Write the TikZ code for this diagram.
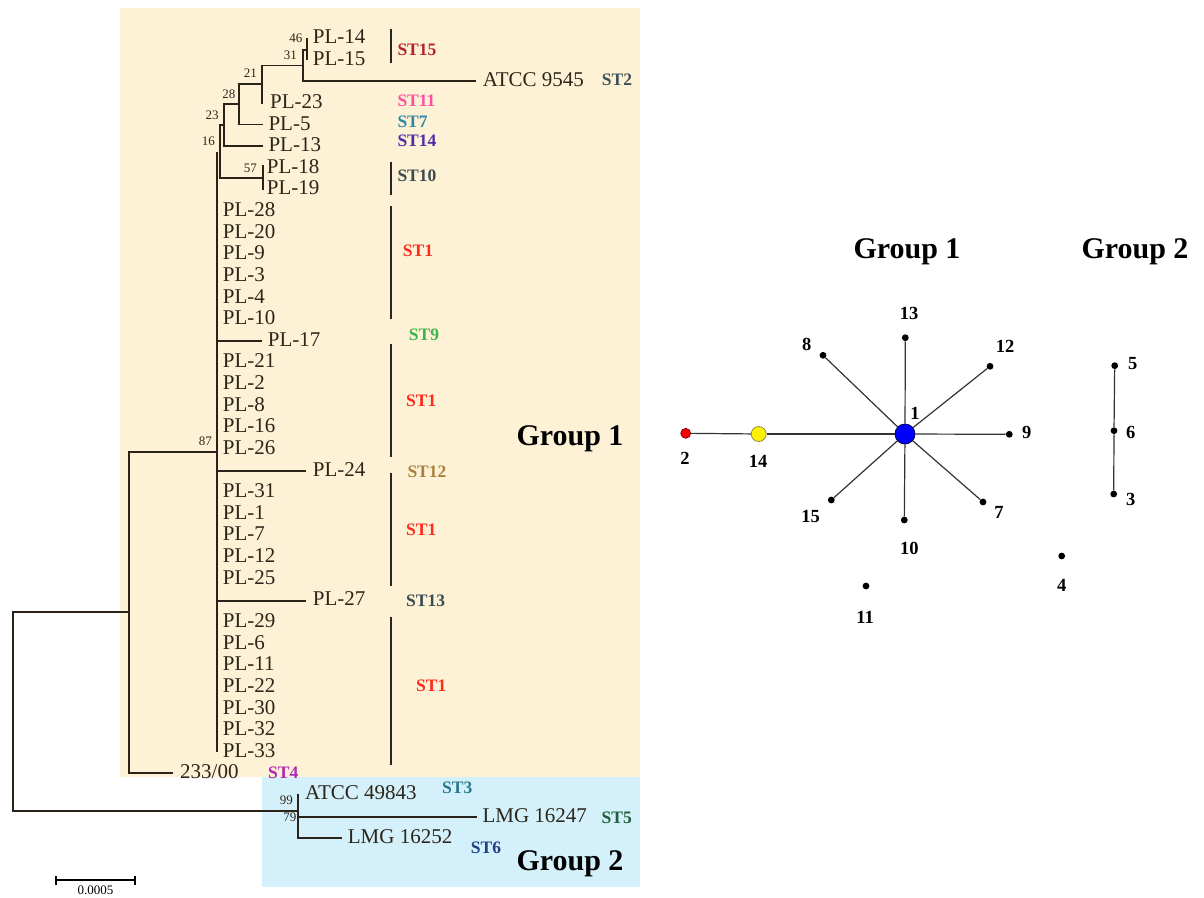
\documentclass[tikz,border=0pt]{standalone}
\usepackage{fontspec}
\setmainfont{Liberation Serif}
\definecolor{beigebg}{HTML}{FEF2D6}
\definecolor{bluebg}{HTML}{D4F0FA}
\definecolor{treec}{HTML}{2A2418}
\definecolor{leafc}{HTML}{2B2619}
\definecolor{netc}{HTML}{333333}
\definecolor{cST15}{HTML}{B5232A}
\definecolor{cST2}{HTML}{3E5358}
\definecolor{cST11}{HTML}{FF4FA3}
\definecolor{cST7}{HTML}{2E88A6}
\definecolor{cST14}{HTML}{4B2FA8}
\definecolor{cST10}{HTML}{3B4A4F}
\definecolor{cST1}{HTML}{FF2A1A}
\definecolor{cST9}{HTML}{3DB54A}
\definecolor{cST12}{HTML}{A8823C}
\definecolor{cST13}{HTML}{3B4D52}
\definecolor{cST4}{HTML}{B327B5}
\definecolor{cST3}{HTML}{2A7A8C}
\definecolor{cST5}{HTML}{1F5E3A}
\definecolor{cST6}{HTML}{1F3F8A}
\begin{document}
\begin{tikzpicture}[x=1pt,y=-1pt,
  br/.style={line width=1.8pt, draw=treec},
  leaf/.style={anchor=base west, inner sep=0pt, font=\fontsize{21}{24}\selectfont, text=leafc},
  stl/.style={anchor=west, inner sep=0pt, font=\bfseries\fontsize{17.5}{20}\selectfont},
  stc/.style={anchor=center, inner sep=0pt, font=\bfseries\fontsize{17.5}{20}\selectfont},
  boot/.style={anchor=east, inner sep=0pt, font=\fontsize{13}{15}\selectfont, text=leafc},
  grp/.style={anchor=base, inner sep=0pt, font=\bfseries\fontsize{30}{34}\selectfont},
  stbar/.style={line width=1.6pt, draw=black!85},
  net/.style={line width=1.2pt, draw=netc},
  dot/.style={circle, fill=black, inner sep=0pt, minimum size=6.8pt},
  nlab/.style={inner sep=0pt, font=\bfseries\fontsize{18.5}{21}\selectfont}
]
\useasboundingbox (0,0) rectangle (1204,897);
% backgrounds
\fill[beigebg] (120,8) rectangle (640,776.7);
\fill[bluebg] (262.3,776.7) rectangle (639.5,887.3);

% ---------- tree internal nodes ----------
\coordinate (root) at (12.7,711.35);
\coordinate (g1) at (129,612.2);
\coordinate (g2) at (298,810.7);
\coordinate (n87) at (217.3,451.7);
\coordinate (nA) at (220,151.5);
\coordinate (n23) at (224,125);
\coordinate (n28) at (239.3,104);
\coordinate (n21) at (261.7,84);
\coordinate (n31) at (302.7,65.5);
\coordinate (c1415) at (306.7,50);
\coordinate (c1819) at (262.7,178);
% leaf ends
\coordinate (e233) at (173.3,772.7);
\coordinate (etop) at (217.3,151.5);
\coordinate (ebot) at (217.3,751.5);
\coordinate (e17) at (262,340.7);
\coordinate (e24) at (305.7,470.7);
\coordinate (e27) at (305.7,600.7);
\coordinate (e13) at (263,146);
\coordinate (e5) at (263,124.5);
\coordinate (e23) at (261.7,103.5);
\coordinate (eATCC) at (476,81.3);
\coordinate (e14) at (306.7,38);
\coordinate (e15) at (306.7,60);
\coordinate (e18) at (262.7,165);
\coordinate (e19) at (262.7,190);
\coordinate (e49843) at (298,794.3);
\coordinate (e16247) at (476.7,816.7);
\coordinate (e16252) at (341.7,838.3);

% branches
\draw[br] (root) |- (g1);
\draw[br] (root) |- (g2);
\draw[br] (g1) |- (n87);
\draw[br] (g1) |- (e233);
\draw[br] (n87) |- (etop);
\draw[br] (n87) |- (ebot);
\draw[br] (n87) |- (e17);
\draw[br] (n87) |- (e24);
\draw[br] (n87) |- (e27);
\draw[br] (nA) |- (n23);
\draw[br] (nA) |- (c1819);
\draw[br] (n23) |- (n28);
\draw[br] (n23) |- (e13);
\draw[br] (n28) |- (n21);
\draw[br] (n28) |- (e5);
\draw[br] (n21) |- (n31);
\draw[br] (n21) |- (e23);
\draw[br] (n31) |- (c1415);
\draw[br] (n31) |- (eATCC);
\draw[br] (c1415) -- (e14);
\draw[br] (c1415) -- (e15);
\draw[br] (c1819) -- (e18);
\draw[br] (c1819) -- (e19);
\draw[br] (g2) |- (e49843);
\draw[br] (g2) |- (e16247);
\draw[br] (g2) |- (e16252);

% ---------- leaf labels ----------
\node[leaf] (pl14) at (312.7,43.5) {PL-14};
\node[leaf] (pl15) at (312.7,65.1) {PL-15};
\node[leaf] (atcc9545) at (482.7,86.8) {ATCC 9545};
\node[leaf] (pl23) at (270,108.4) {PL-23};
\node[leaf] (pl5) at (268.3,130.0) {PL-5};
\node[leaf] (pl13) at (268.3,151.7) {PL-13};
\node[leaf] (pl18) at (266.7,173.3) {PL-18};
\node[leaf] (pl19) at (266.7,194.9) {PL-19};
\foreach \t/\i in {28/8,20/9,9/10,3/11,4/12,10/13,21/15,2/16,8/17,16/18,26/19,31/21,1/22,7/23,12/24,25/25,29/27,6/28,11/29,22/30,30/31,32/32,33/33}
  \node[leaf] (pl\t) at (222.7,{43.5+21.63*\i}) {PL-\t};
\node[leaf] (pl17) at (267.7,346.3) {PL-17};
\node[leaf] (pl24) at (312.7,476.1) {PL-24};
\node[leaf] (pl27) at (312.7,605.9) {PL-27};
\node[leaf] (s233) at (180,778.4) {233/00};
\node[leaf] (atcc49843) at (305,799.3) {ATCC 49843};
\node[leaf] (lmg16247) at (482.3,822) {LMG 16247};
\node[leaf] (lmg16252) at (347.7,843.7) {LMG 16252};

% bootstrap values
\node[boot] (b46) at (302.5,38.5) {46};
\node[boot] (b31) at (297,55) {31};
\node[boot] (b21) at (257,73) {21};
\node[boot] (b28) at (235.5,94) {28};
\node[boot] (b23) at (218.7,115) {23};
\node[boot] (b16) at (215,141.5) {16};
\node[boot] (b57) at (257,168) {57};
\node[boot] (b87) at (212,441) {87};
\node[boot] (b99) at (293,800.5) {99};
\node[boot] (b79) at (296.5,817) {79};

% ST bars
\draw[stbar] (390.7,29.3) -- (390.7,62.7);
\draw[stbar] (390.7,161.7) -- (390.7,195);
\draw[stbar] (390.7,206) -- (390.7,319.3);
\draw[stbar] (390.7,344) -- (390.7,457.3);
\draw[stbar] (390.7,472.7) -- (390.7,585.7);
\draw[stbar] (390.7,616.7) -- (390.7,765);

% ST labels
\node[stl, text=cST15] (st15) at (397.3,49.3) {ST15};
\node[stl, text=cST2] (st2) at (601.7,80) {ST2};
\node[stl, text=cST11] (st11) at (397.3,100.7) {ST11};
\node[stl, text=cST7] (st7) at (397.3,121.7) {ST7};
\node[stl, text=cST14] (st14) at (397.3,140.7) {ST14};
\node[stl, text=cST10] (st10) at (397.3,175.7) {ST10};
\node[stl, text=cST1] (st1a) at (402.7,251) {ST1};
\node[stl, text=cST9] (st9) at (408.7,335) {ST9};
\node[stl, text=cST1] (st1b) at (406,401) {ST1};
\node[stl, text=cST12] (st12) at (407.3,471.7) {ST12};
\node[stl, text=cST1] (st1c) at (406,530) {ST1};
\node[stl, text=cST13] (st13) at (406,600.7) {ST13};
\node[stl, text=cST1] (st1d) at (416,686) {ST1};
\node[stc, text=cST4] (st4) at (283.3,772.3) {ST4};
\node[stc, text=cST3] (st3) at (457.3,787.3) {ST3};
\node[stc, text=cST5] (st5) at (616.7,817.3) {ST5};
\node[stc, text=cST6] (st6) at (486,847.3) {ST6};

% group labels
\node[grp] (tg1) at (570,445.5) {Group 1};
\node[grp] (tg2) at (570,870) {Group 2};
\node[grp] (ng1) at (907,258.3) {Group 1};
\node[grp] (ng2) at (1135,258.3) {Group 2};

% scale bar
\coordinate (sbl) at (56,880);
\coordinate (sbr) at (135,880);
\draw[line width=1.6pt] (sbl) -- (sbr);
\draw[line width=1.6pt] (56,875.5) -- (56,884.5);
\draw[line width=1.6pt] (135,875.5) -- (135,884.5);
\node[inner sep=0pt, font=\fontsize{13}{15}\selectfont] (sblab) at (95.5,890.5) {0.0005};

% ---------- network ----------
\node[circle, fill=blue, draw=black!70!blue, line width=0.8pt, inner sep=0pt, minimum size=20pt] (n1) at (905,434) {};
\node[circle, fill=red, draw=black!60!red, line width=0.6pt, inner sep=0pt, minimum size=10pt] (n2) at (685.7,433.3) {};
\node[circle, fill=yellow, draw=black!55!yellow, line width=0.7pt, inner sep=0pt, minimum size=15pt] (n14) at (758.7,434) {};
\node[dot] (n13) at (905.3,337.7) {};
\node[dot] (n8) at (823,355.3) {};
\node[dot] (n12) at (990,366.3) {};
\node[dot] (n9) at (1009.3,434.3) {};
\node[dot] (n7) at (983,502) {};
\node[dot] (n10) at (904.3,520) {};
\node[dot] (n15) at (831.3,500) {};
\node[dot] (n11) at (866,586) {};
\node[dot] (n4) at (1061.7,556) {};
\node[dot] (n5) at (1114.7,365.7) {};
\node[dot] (n6) at (1114,430.7) {};
\node[dot] (n3) at (1113.7,494) {};

\draw[net] (n2) -- (n14);
\draw[net] (n14) -- (n1);
\foreach \m in {n13,n8,n12,n9,n7,n10,n15} \draw[net] (n1) -- (\m);
\draw[net] (n5) -- (n6);
\draw[net] (n6) -- (n3);

\node[nlab] (l2) at (685,458) {2};
\node[nlab] (l14) at (758,461) {14};
\node[nlab] (l1) at (915,413) {1};
\node[nlab] (l13) at (909,313) {13};
\node[nlab] (l8) at (806.7,344) {8};
\node[nlab] (l12) at (1005,346) {12};
\node[nlab] (l9) at (1026.7,432) {9};
\node[nlab] (l7) at (999,512) {7};
\node[nlab] (l10) at (909.3,548) {10};
\node[nlab] (l15) at (810.7,516) {15};
\node[nlab] (l11) at (865,617) {11};
\node[nlab] (l4) at (1061.7,585) {4};
\node[nlab] (l5) at (1132.7,363.3) {5};
\node[nlab] (l6) at (1130.7,432.3) {6};
\node[nlab] (l3) at (1130.7,499.3) {3};
\end{tikzpicture}
\end{document}
